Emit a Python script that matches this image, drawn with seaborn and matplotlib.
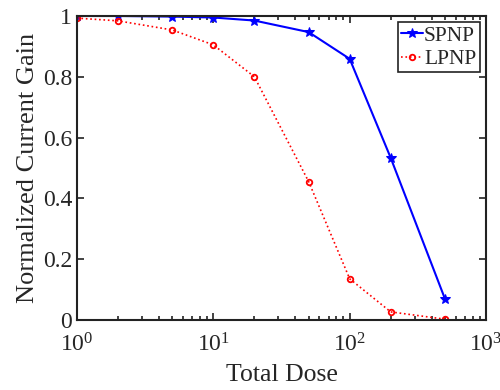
import matplotlib
matplotlib.use("Agg")
import matplotlib.pyplot as plt
import seaborn as sns
import pandas as pd
from matplotlib.ticker import LogLocator, NullFormatter

dose = [1, 2, 5, 10, 20, 50, 100, 200, 500]
spnp = [1.0, 1.0, 0.998, 0.995, 0.985, 0.947, 0.859, 0.533, 0.069]
lpnp = [0.993, 0.984, 0.954, 0.905, 0.80, 0.455, 0.135, 0.026, 0.002]

sns.set_theme(style="ticks")
plt.rcParams['font.family'] = ['Liberation Serif', 'DejaVu Serif']
plt.rcParams['mathtext.fontset'] = 'custom'
plt.rcParams['mathtext.rm'] = 'Liberation Serif'

df = pd.DataFrame({"dose": dose * 2,
                   "gain": spnp + lpnp,
                   "series": ["SPNP"] * len(dose) + ["LPNP"] * len(dose)})

fig = plt.figure(figsize=(5.0, 3.9), dpi=100)
ax = fig.add_axes([0.154, 0.18, 0.818, 0.779])

sns.lineplot(data=df[df.series == "SPNP"], x="dose", y="gain", ax=ax,
             color="#0000FF", linewidth=1.5, marker="*", markersize=7.5,
             markeredgecolor="#0000FF", label="SPNP")
sns.lineplot(data=df[df.series == "LPNP"], x="dose", y="gain", ax=ax,
             color="#FF0000", linewidth=1.2, linestyle=":", marker="o",
             markersize=4, markerfacecolor="none", markeredgecolor="#FF0000",
             markeredgewidth=1.3, label="LPNP")

ax.set_xscale("log")
ax.set_xlim(1, 1000)
ax.set_ylim(0, 1)
ax.set_yticks([0, 0.2, 0.4, 0.6, 0.8, 1.0])
ax.set_yticklabels(["0", "0.2", "0.4", "0.6", "0.8", "1"])
ax.xaxis.set_minor_locator(LogLocator(base=10, subs=range(2, 10)))
ax.xaxis.set_minor_formatter(NullFormatter())
ax.set_xlabel("Total Dose", fontsize=18.5, labelpad=5)
ax.set_ylabel("Normalized Current Gain", fontsize=19, labelpad=3)
ax.tick_params(axis="both", which="both", direction="in", top=True, right=True,
               labelsize=17, width=1.2, color="#222222")
ax.tick_params(axis="x", which="major", pad=10)
ax.tick_params(which="major", length=5)
ax.tick_params(which="minor", length=3)
for s in ax.spines.values():
    s.set_linewidth(1.5)
    s.set_color("#222222")

leg = ax.legend(loc="upper right", fontsize=15.5, frameon=True, fancybox=False,
                edgecolor="#222222", framealpha=1, borderpad=0.15,
                handlelength=1.0, handletextpad=0.05, labelspacing=0.15,
                borderaxespad=0.3)
leg.get_frame().set_linewidth(1.2)

fig.savefig("out.png", dpi=100)
